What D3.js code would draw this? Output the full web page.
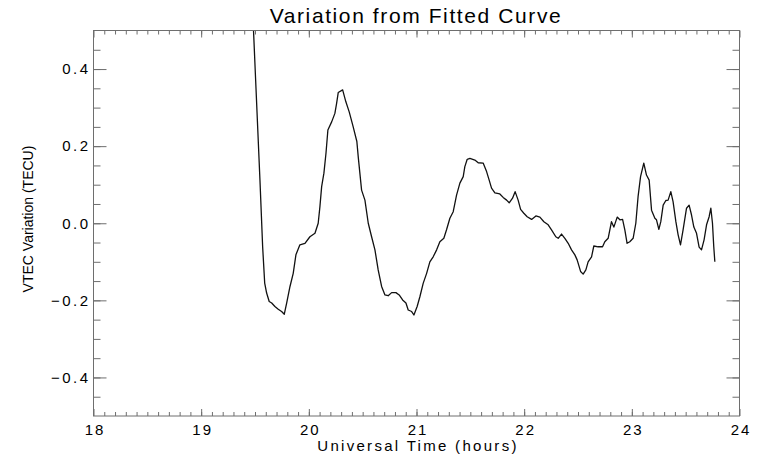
<!DOCTYPE html>
<html>
<head>
<meta charset="utf-8">
<script src="https://cdn.jsdelivr.net/npm/d3@7"></script>
<style>
  html, body { margin: 0; padding: 0; background: #ffffff; }
  svg { display: block; font-family: "Liberation Sans", Arial, sans-serif; }
</style>
</head>
<body>
<svg id="chart" width="761" height="458"></svg>
<script>
// values
const hours = [
    19.470, 19.486, 19.506, 19.546, 19.571, 19.590, 19.608, 19.632, 19.655, 19.685,
    19.716, 19.747, 19.772, 19.794, 19.825, 19.855, 19.880, 19.917, 19.964, 20.010,
    20.057, 20.087, 20.103, 20.119, 20.140, 20.159, 20.177, 20.212, 20.242, 20.258,
    20.273, 20.314, 20.344, 20.375, 20.412, 20.446, 20.460, 20.490, 20.521, 20.552,
    20.583, 20.614, 20.644, 20.676, 20.707, 20.737, 20.769, 20.809, 20.839, 20.871,
    20.902, 20.923, 20.955, 20.976, 21.006, 21.032, 21.062, 21.094, 21.124, 21.155,
    21.187, 21.217, 21.254, 21.279, 21.310, 21.341, 21.372, 21.403, 21.434, 21.449,
    21.471, 21.496, 21.542, 21.573, 21.619, 21.651, 21.675, 21.697, 21.728, 21.774,
    21.805, 21.837, 21.861, 21.892, 21.916, 21.944, 21.967, 21.997, 22.028, 22.069,
    22.109, 22.146, 22.183, 22.223, 22.254, 22.294, 22.316, 22.347, 22.378, 22.409,
    22.440, 22.471, 22.492, 22.524, 22.548, 22.573, 22.594, 22.626, 22.647, 22.687,
    22.728, 22.749, 22.780, 22.811, 22.833, 22.864, 22.889, 22.914, 22.935, 22.956,
    22.981, 23.012, 23.037, 23.058, 23.081, 23.111, 23.136, 23.161, 23.183, 23.214,
    23.229, 23.251, 23.269, 23.291, 23.316, 23.337, 23.362, 23.383, 23.409, 23.430,
    23.452, 23.476, 23.508, 23.532, 23.554, 23.576, 23.601, 23.625, 23.647, 23.671,
    23.694, 23.718, 23.734, 23.749, 23.761, 23.771
];
const tecVar = [
    0.560, 0.501, 0.371, 0.112, -0.061, -0.155, -0.181, -0.203, -0.207, -0.216,
    -0.223, -0.229, -0.236, -0.207, -0.164, -0.130, -0.082, -0.056, -0.052, -0.035,
    -0.026, 0.000, 0.043, 0.095, 0.130, 0.181, 0.242, 0.263, 0.285, 0.311,
    0.339, 0.346, 0.315, 0.289, 0.250, 0.212, 0.169, 0.086, 0.060, 0.000,
    -0.035, -0.069, -0.121, -0.164, -0.186, -0.188, -0.180, -0.180, -0.186, -0.199,
    -0.207, -0.225, -0.229, -0.238, -0.216, -0.190, -0.156, -0.130, -0.100, -0.087,
    -0.069, -0.048, -0.039, -0.017, 0.013, 0.030, 0.073, 0.104, 0.121, 0.147,
    0.166, 0.168, 0.164, 0.157, 0.156, 0.134, 0.112, 0.091, 0.079, 0.076,
    0.067, 0.060, 0.053, 0.065, 0.082, 0.060, 0.036, 0.026, 0.017, 0.010,
    0.019, 0.016, 0.004, -0.004, -0.017, -0.035, -0.039, -0.028, -0.039, -0.052,
    -0.069, -0.082, -0.095, -0.125, -0.132, -0.121, -0.100, -0.087, -0.059, -0.061,
    -0.061, -0.048, -0.039, 0.004, -0.010, 0.016, 0.009, 0.010, -0.017, -0.052,
    -0.048, -0.039, 0.000, 0.069, 0.121, 0.156, 0.125, 0.112, 0.034, 0.013,
    0.009, -0.016, 0.004, 0.047, 0.059, 0.060, 0.082, 0.056, 0.004, -0.030,
    -0.056, -0.017, 0.039, 0.047, 0.022, -0.010, -0.026, -0.062, -0.069, -0.043,
    -0.004, 0.017, 0.039, 0.000, -0.061, -0.100
];
const xMajorTicks = [18, 19, 20, 21, 22, 23, 24];
const yMajorTicks = [-0.4, -0.2, 0.0, 0.2, 0.4];

const svg = d3.select("#chart");
const axisColor = "#6e6e6e";

const x = d3.scaleLinear().domain([18, 24]).range([93.5, 739.5]);
const y = d3.scaleLinear().domain([-0.5, 0.5]).range([416, 30.5]);

const xMinor = d3.range(181, 240).map(d => d / 10);
const yMinor = d3.range(-9, 10).map(d => d / 20);

// Title
svg.append("text")
    .attr("x", 416)
    .attr("y", 23)
    .attr("text-anchor", "middle")
    .attr("font-size", "21px")
    .attr("letter-spacing", "1.6px")
    .attr("fill", "#000")
    .text("Variation from Fitted Curve");

// Clip for the curve
svg.append("clipPath")
    .attr("id", "plotClip")
    .append("rect")
    .attr("x", x(18))
    .attr("y", y(0.5))
    .attr("width", x(24) - x(18))
    .attr("height", y(-0.5) - y(0.5));

const series = hours.map((h, i) => ({ h: h, v: tecVar[i] }));

const line = d3.line()
    .x(d => x(d.h))
    .y(d => y(d.v));

svg.append("path")
    .datum(series)
    .attr("clip-path", "url(#plotClip)")
    .attr("fill", "none")
    .attr("stroke", "#111")
    .attr("stroke-width", 1.3)
    .attr("stroke-linejoin", "round")
    .attr("d", line);

// Minor ticks on all four sides
function styleAxis(g) {
    g.select(".domain").remove();
    g.selectAll("line").attr("stroke", axisColor);
    g.selectAll("text").attr("fill", "#000");
}

svg.append("g")
    .attr("transform", `translate(0, ${y(-0.5)})`)
    .call(d3.axisBottom(x).tickValues(xMinor).tickSize(-4).tickFormat(""))
    .call(styleAxis);
svg.append("g")
    .attr("transform", `translate(0, ${y(0.5)})`)
    .call(d3.axisTop(x).tickValues(xMinor).tickSize(-4).tickFormat(""))
    .call(styleAxis);
svg.append("g")
    .attr("transform", `translate(${x(18)}, 0)`)
    .call(d3.axisLeft(y).tickValues(yMinor).tickSize(-7).tickFormat(""))
    .call(styleAxis);
svg.append("g")
    .attr("transform", `translate(${x(24)}, 0)`)
    .call(d3.axisRight(y).tickValues(yMinor).tickSize(-7).tickFormat(""))
    .call(styleAxis);

// Major ticks and labels
svg.append("g")
    .attr("transform", `translate(0, ${y(-0.5)})`)
    .call(d3.axisBottom(x).tickValues(xMajorTicks).tickSize(-7).tickPadding(8.5).tickFormat(d3.format("d")))
    .call(styleAxis)
    .call(g => g.selectAll("text")
        .attr("font-size", "15px")
        .attr("letter-spacing", "2px")
        .attr("dx", "1px"));
svg.append("g")
    .attr("transform", `translate(0, ${y(0.5)})`)
    .call(d3.axisTop(x).tickValues(xMajorTicks).tickSize(-7).tickFormat(""))
    .call(styleAxis);
svg.append("g")
    .attr("transform", `translate(${x(18)}, 0)`)
    .call(d3.axisLeft(y).tickValues(yMajorTicks).tickSize(-13).tickPadding(3).tickFormat(d3.format(".1f")))
    .call(styleAxis)
    .call(g => g.selectAll("text")
        .attr("font-size", "15px")
        .attr("letter-spacing", "2.5px"));
svg.append("g")
    .attr("transform", `translate(${x(24)}, 0)`)
    .call(d3.axisRight(y).tickValues(yMajorTicks).tickSize(-13).tickFormat(""))
    .call(styleAxis);

// Frame
svg.append("rect")
    .attr("x", x(18))
    .attr("y", y(0.5))
    .attr("width", x(24) - x(18))
    .attr("height", y(-0.5) - y(0.5))
    .attr("fill", "none")
    .attr("stroke", axisColor)
    .attr("stroke-width", 1);

// Axis titles
svg.append("text")
    .attr("x", 418)
    .attr("y", 451)
    .attr("text-anchor", "middle")
    .attr("font-size", "15px")
    .attr("letter-spacing", "2.3px")
    .attr("fill", "#000")
    .text("Universal Time (hours)");

svg.append("text")
    .attr("transform", "translate(33, 219) rotate(-90)")
    .attr("text-anchor", "middle")
    .attr("font-size", "14px")
    .attr("fill", "#000")
    .text("VTEC Variation (TECU)");
</script>
</body>
</html>
